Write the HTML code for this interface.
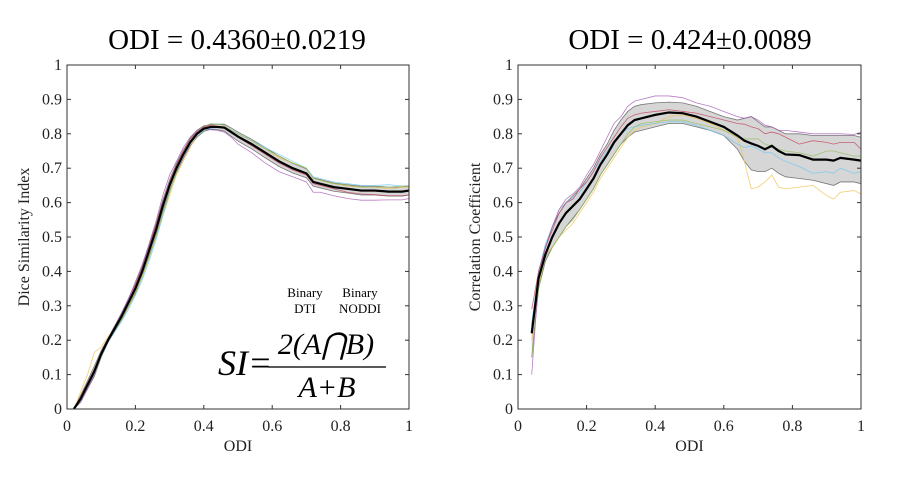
<!DOCTYPE html>
<html><head><meta charset="utf-8"><style>
body{margin:0;background:#fff;width:898px;height:474px;overflow:hidden}
svg{font-family:"Liberation Serif",serif}
</style></head><body>
<svg id="fig" width="898" height="474">
<text x="237" y="49" font-size="29" text-anchor="middle">ODI = 0.4360±0.0219</text>
<text x="690" y="49" font-size="29" text-anchor="middle">ODI = 0.424±0.0089</text>
<g id="left"></g>
<g id="right"></g>
<g>
<text x="305" y="297" font-size="13" text-anchor="middle"><tspan x="305">Binary</tspan><tspan x="305" dy="16">DTI</tspan></text>
<text x="360" y="297" font-size="13" text-anchor="middle"><tspan x="360">Binary</tspan><tspan x="360" dy="16">NODDI</tspan></text>
<text x="218" y="375" font-size="36" font-style="italic">SI=</text>
<line x1="268" y1="367" x2="386" y2="367" stroke="#222" stroke-width="1.5"/>
<text x="326" y="354" font-size="30" font-style="italic" text-anchor="middle">2(A⋂B)</text>
<text x="327" y="397" font-size="30" font-style="italic" text-anchor="middle">A+B</text>
</g>
</svg>
<script>
const xL=[0.02,0.04,0.06,0.08,0.10,0.12,0.14,0.16,0.18,0.20,0.22,0.24,0.26,0.28,0.30,0.32,0.34,0.36,0.38,0.40,0.42,0.44,0.46,0.48,0.50,0.54,0.58,0.62,0.66,0.70,0.72,0.74,0.78,0.82,0.86,0.90,0.94,0.98,1.0];
const meanL=[0,0.03,0.07,0.11,0.16,0.20,0.235,0.27,0.31,0.35,0.40,0.46,0.52,0.59,0.65,0.70,0.74,0.775,0.80,0.815,0.82,0.82,0.818,0.805,0.792,0.77,0.745,0.72,0.70,0.685,0.66,0.655,0.645,0.64,0.635,0.635,0.632,0.632,0.635];
const stdL=[0,0.01,0.012,0.015,0.01,0.006,0.008,0.01,0.012,0.014,0.015,0.016,0.017,0.017,0.016,0.014,0.012,0.011,0.01,0.008,0.007,0.008,0.01,0.012,0.013,0.014,0.015,0.015,0.014,0.013,0.012,0.012,0.012,0.012,0.013,0.013,0.013,0.013,0.013];
const purpleL=[0,0.02,0.06,0.10,0.155,0.20,0.24,0.28,0.32,0.37,0.42,0.48,0.545,0.62,0.68,0.72,0.76,0.79,0.81,0.815,0.812,0.81,0.805,0.79,0.77,0.745,0.715,0.69,0.675,0.66,0.63,0.63,0.62,0.612,0.607,0.607,0.608,0.608,0.612];
const yellowL=[0,0.05,0.10,0.165,0.18,0.21,0.235,0.265,0.30,0.34,0.385,0.44,0.50,0.56,0.62,0.68,0.72,0.76,0.795,0.81,0.82,0.822,0.82,0.81,0.80,0.78,0.755,0.73,0.715,0.70,0.67,0.665,0.655,0.648,0.645,0.645,0.64,0.645,0.645];
const greenL=[0,0.03,0.065,0.10,0.15,0.20,0.23,0.26,0.30,0.34,0.385,0.44,0.50,0.57,0.63,0.69,0.74,0.78,0.80,0.82,0.83,0.828,0.825,0.81,0.80,0.78,0.755,0.735,0.715,0.70,0.67,0.665,0.655,0.65,0.645,0.645,0.645,0.648,0.648];
const blueL=[0,0.03,0.065,0.10,0.15,0.195,0.225,0.255,0.29,0.33,0.375,0.43,0.49,0.56,0.63,0.69,0.735,0.77,0.795,0.81,0.815,0.818,0.82,0.81,0.80,0.78,0.76,0.74,0.72,0.70,0.675,0.67,0.66,0.655,0.65,0.65,0.652,0.648,0.65];
const redL=[0,0.035,0.075,0.115,0.16,0.205,0.24,0.275,0.315,0.36,0.41,0.47,0.535,0.60,0.66,0.71,0.75,0.785,0.805,0.82,0.825,0.822,0.818,0.805,0.79,0.765,0.74,0.715,0.695,0.68,0.655,0.65,0.64,0.63,0.625,0.623,0.62,0.62,0.622];

const xR=[0.04,0.06,0.08,0.10,0.12,0.14,0.16,0.18,0.20,0.22,0.24,0.26,0.28,0.30,0.32,0.34,0.36,0.40,0.44,0.48,0.52,0.56,0.60,0.64,0.66,0.68,0.70,0.72,0.74,0.76,0.78,0.82,0.86,0.90,0.92,0.94,0.98,1.0];
const meanR=[0.22,0.38,0.45,0.50,0.54,0.57,0.59,0.61,0.64,0.67,0.71,0.74,0.775,0.80,0.825,0.84,0.845,0.855,0.862,0.86,0.85,0.835,0.82,0.795,0.78,0.772,0.765,0.755,0.765,0.75,0.74,0.738,0.725,0.725,0.722,0.73,0.725,0.722];
const upperR=[0.24,0.40,0.47,0.53,0.57,0.60,0.62,0.64,0.67,0.70,0.74,0.77,0.81,0.84,0.865,0.88,0.885,0.89,0.892,0.89,0.88,0.865,0.85,0.84,0.845,0.85,0.835,0.82,0.82,0.81,0.80,0.80,0.795,0.795,0.795,0.795,0.795,0.79];
const lowerR=[0.15,0.35,0.43,0.47,0.50,0.53,0.555,0.58,0.61,0.64,0.68,0.71,0.74,0.77,0.79,0.805,0.81,0.82,0.83,0.83,0.82,0.81,0.795,0.755,0.72,0.695,0.69,0.69,0.70,0.685,0.675,0.67,0.665,0.655,0.65,0.66,0.66,0.655];
const purpleR=[0.10,0.38,0.47,0.53,0.58,0.61,0.625,0.645,0.68,0.71,0.75,0.79,0.83,0.85,0.88,0.895,0.90,0.91,0.91,0.905,0.89,0.88,0.865,0.85,0.845,0.85,0.84,0.825,0.82,0.81,0.81,0.805,0.80,0.80,0.80,0.80,0.798,0.805];
const redR=[0.29,0.40,0.47,0.52,0.57,0.60,0.61,0.64,0.66,0.69,0.73,0.76,0.79,0.82,0.845,0.855,0.86,0.865,0.87,0.865,0.86,0.85,0.84,0.83,0.828,0.82,0.815,0.80,0.805,0.80,0.79,0.77,0.78,0.775,0.77,0.775,0.775,0.755];
const yellowR=[0.20,0.36,0.45,0.47,0.50,0.52,0.54,0.57,0.60,0.63,0.67,0.70,0.73,0.76,0.79,0.81,0.82,0.83,0.85,0.855,0.845,0.83,0.81,0.79,0.72,0.64,0.645,0.66,0.68,0.645,0.64,0.645,0.65,0.62,0.61,0.63,0.635,0.625];
const blueR=[0.25,0.40,0.48,0.53,0.58,0.60,0.615,0.63,0.66,0.69,0.72,0.75,0.78,0.80,0.815,0.82,0.825,0.83,0.835,0.835,0.825,0.81,0.795,0.77,0.76,0.765,0.755,0.745,0.745,0.73,0.72,0.705,0.685,0.69,0.685,0.70,0.685,0.69];
const greenR=[0.15,0.35,0.44,0.47,0.50,0.53,0.55,0.58,0.61,0.64,0.68,0.71,0.74,0.77,0.80,0.82,0.83,0.835,0.84,0.84,0.83,0.82,0.81,0.79,0.785,0.785,0.785,0.77,0.765,0.755,0.75,0.745,0.735,0.75,0.75,0.745,0.735,0.735];

const xTicks=[0,0.2,0.4,0.6,0.8,1];
const xTickLabels=["0","0.2","0.4","0.6","0.8","1"];
const yTicks=[0,0.1,0.2,0.3,0.4,0.5,0.6,0.7,0.8,0.9,1];
const yTickLabels=["0","0.1","0.2","0.3","0.4","0.5","0.6","0.7","0.8","0.9","1"];
const NS="http://www.w3.org/2000/svg";
function mk(g,t,a){const e=document.createElementNS(NS,t);for(const k in a)e.setAttribute(k,a[k]);g.appendChild(e);return e;}
function chart(g,x0,x1,y0,y1,ylabel,xs,lower,upper,subs,mean){
  const sx=v=>x0+v*(x1-x0), sy=v=>y0-v*(y0-y1);
  let d="M"+xs.map((v,i)=>sx(v)+","+sy(upper[i])).join("L")+"L"+xs.map((v,i)=>sx(v)+","+sy(lower[i])).reverse().join("L")+"Z";
  const band=mk(g,"path",{d:d,fill:"#d6d6d6",stroke:"none"});
  
  
  [upper,lower].forEach(arr=>{const p=mk(g,"polyline",{points:xs.map((v,i)=>sx(v)+","+sy(arr[i])).join(" "),fill:"none",stroke:"#777","stroke-width":0.8});
    
    });
  subs.forEach(s=>{const p=mk(g,"polyline",{points:xs.map((v,i)=>sx(v)+","+sy(s.v[i])).join(" "),fill:"none",stroke:s.c,"stroke-width":0.8,"stroke-opacity":0.8});
    
    });
  const m=mk(g,"polyline",{points:xs.map((v,i)=>sx(v)+","+sy(mean[i])).join(" "),fill:"none",stroke:"#000","stroke-width":2.2});
  
  
  const ax=mk(g,"rect",{x:x0,y:y1,width:x1-x0,height:y0-y1,fill:"none",stroke:"#333","stroke-width":1});
  
  
  xTicks.forEach((t,i)=>{const X=sx(t);
    mk(g,"line",{x1:X,y1:y0,x2:X,y2:y0-4,stroke:"#333"});mk(g,"line",{x1:X,y1:y1,x2:X,y2:y1+4,stroke:"#333"});
    const tx=mk(g,"text",{x:X,y:y0+22,"font-size":16,"text-anchor":"middle",fill:"#222"});tx.textContent=xTickLabels[i];
    
    });
  yTicks.forEach((t,i)=>{const Y=sy(t);
    mk(g,"line",{x1:x0,y1:Y,x2:x0+4,y2:Y,stroke:"#333"});mk(g,"line",{x1:x1,y1:Y,x2:x1-4,y2:Y,stroke:"#333"});
    const tx=mk(g,"text",{x:x0-5,y:Y+5,"font-size":16,"text-anchor":"end",fill:"#222"});tx.textContent=yTickLabels[i];
    
    });
  const xl=mk(g,"text",{x:(x0+x1)/2,y:y0+42,"font-size":16,"text-anchor":"middle",fill:"#222"});xl.textContent="ODI";
  
  
  const yl=mk(g,"text",{x:0,y:0,"font-size":16,"text-anchor":"middle",fill:"#222",transform:`translate(${x0-38},${(y0+y1)/2}) rotate(-90)`});yl.textContent=ylabel;
  
  
}
const C={p:"#A45BB5",r:"#C0455F",y:"#F0C050",b:"#6CC8F0",g:"#93BE5A"};
chart(document.getElementById("left"),67,409,409,65,"Dice Similarity Index",xL,
  meanL.map((v,i)=>v-stdL[i]),meanL.map((v,i)=>v+stdL[i]),
  [{v:yellowL,c:C.y},{v:blueL,c:C.b},{v:greenL,c:C.g},{v:redL,c:C.r},{v:purpleL,c:C.p}],meanL);
chart(document.getElementById("right"),518,861,409,65,"Correlation Coefficient",xR,lowerR,upperR,
  [{v:yellowR,c:C.y},{v:blueR,c:C.b},{v:greenR,c:C.g},{v:redR,c:C.r},{v:purpleR,c:C.p}],meanR);
</script>
</body></html>
